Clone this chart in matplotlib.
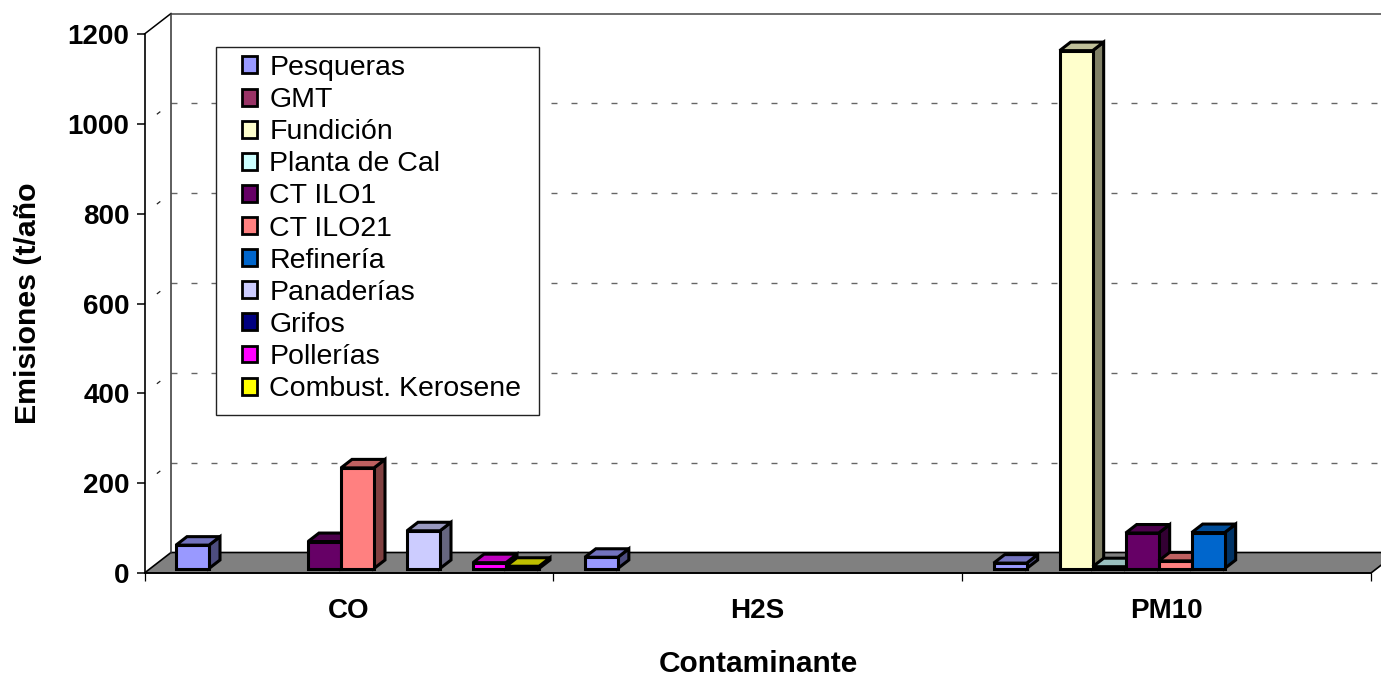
#!/usr/bin/env python
import matplotlib
matplotlib.use("Agg")
import matplotlib.pyplot as plt
from matplotlib.patches import Patch, Polygon, Rectangle
from matplotlib.colors import to_rgb

categories = ["CO", "H2S", "PM10"]
series = ["Pesqueras", "GMT", "Fundición", "Planta de Cal", "CT ILO1", "CT ILO21",
          "Refinería", "Panaderías", "Grifos", "Pollerías", "Combust. Kerosene"]
colors = ["#9999FF", "#993366", "#FFFFCC", "#CCFFFF", "#660066", "#FF8080",
          "#0066CC", "#CCCCFF", "#000080", "#FF00FF", "#FFFF00"]

# t/año per category, 0 = no bar
pesqueras = [52, 25, 12]
gmt = [0, 0, 0]
fundicion = [0, 0, 1153]
planta_cal = [0, 0, 4]
ct_ilo1 = [60, 0, 79]
ct_ilo21 = [224, 0, 17]
refineria = [0, 0, 80]
panaderias = [84, 0, 0]
grifos = [0, 0, 0]
pollerias = [13, 0, 0]
kerosene = [5, 0, 0]
values = [pesqueras, gmt, fundicion, planta_cal, ct_ilo1, ct_ilo21,
          refineria, panaderias, grifos, pollerias, kerosene]
yticks = [0, 200, 400, 600, 800, 1000, 1200]

W, H = 1381, 676
plt.rcParams["font.family"] = ["Liberation Sans", "DejaVu Sans"]

fig = plt.figure(figsize=(W / 100, H / 100), dpi=100)
ax = fig.add_axes([144.5 / W, 1 - 573 / H, 1226.5 / W, 539 / H])
ax.set_xlim(0, 3)
ax.set_ylim(0, 1200)

# data units per pixel, used for the fake 3D depth
PX = 3 / 1226.5
PY = 1200 / 539
WALL_X, WALL_Y = 26.5 * PX, 20.5 * PY
BAR_W = 33 * PX
BAR_X, BAR_Y = 11 * PX, 8.5 * PY
START_X, BASE_Y = 31.5 * PX, 4.5 * PY

for s in ["top", "right"]:
    ax.spines[s].set_visible(False)
for s in ["left", "bottom"]:
    ax.spines[s].set_linewidth(1.2)
    ax.spines[s].set_zorder(1.5)

# walls
xend = 3 + WALL_X
ax.add_patch(Polygon([(0, 0), (WALL_X, WALL_Y), (xend, WALL_Y), (3, 0)], closed=True,
                     fc="#808080", ec="black", lw=1.2, clip_on=False, zorder=1))
ax.plot([WALL_X, WALL_X], [WALL_Y, 1200 + WALL_Y], color="#333333", lw=1.1, clip_on=False, zorder=1)
ax.plot([0, WALL_X], [1200, 1200 + WALL_Y], color="black", lw=1.1, clip_on=False, zorder=1)
ax.plot([WALL_X, xend], [1200 + WALL_Y] * 2, color="#444444", lw=1.1, clip_on=False, zorder=1)

dash = (0, (4.3, 10.1))
for v in yticks[1:-1]:
    ax.plot([WALL_X, xend], [v + WALL_Y] * 2, color="#666666", lw=1.0, ls=dash, clip_on=False, zorder=0.8)
    ax.plot([0, WALL_X], [v, v + WALL_Y], color="#222222", lw=0.9, ls=(3, (3.5, 12)), clip_on=False, zorder=0.8)


def shade(color, k):
    return tuple(c * k for c in to_rgb(color))


def draw_bar(x, val, color):
    y0 = BASE_Y
    y1 = BASE_Y + val
    x1 = x + BAR_W
    faces = [
        ([(x1, y0), (x1 + BAR_X, y0 + BAR_Y), (x1 + BAR_X, y1 + BAR_Y), (x1, y1)], shade(color, 0.5)),
        ([(x, y1), (x + BAR_X, y1 + BAR_Y), (x1 + BAR_X, y1 + BAR_Y), (x1, y1)], shade(color, 0.75)),
        ([(x, y0), (x1, y0), (x1, y1), (x, y1)], color),
    ]
    for pts, fc in faces:
        ax.add_patch(Polygon(pts, closed=True, fc=fc, ec="black", lw=2.2,
                             joinstyle="miter", clip_on=False, zorder=2))


for c in range(len(categories)):
    for i, vals in enumerate(values):
        if vals[c] > 0:
            draw_bar(c + START_X + i * BAR_W, vals[c], colors[i])

ax.set_yticks(yticks)
ax.set_yticklabels([str(v) for v in yticks], fontsize=20, fontweight="bold")
ax.tick_params(axis="y", length=5.8, width=1.1, pad=5)
ax.set_xticks([0, 1, 2, 3])
ax.set_xticklabels([])
ax.tick_params(axis="x", which="major", length=5.8, width=0.9)
ax.set_xticks([0.5, 1.5, 2.5], minor=True)
ax.set_xticklabels(categories, minor=True, fontsize=20, fontweight="bold")
ax.tick_params(axis="x", which="minor", length=0, pad=18)

ax.set_xlabel("Contaminante", fontsize=21.5, fontweight="bold")
ax.xaxis.set_label_coords((758 - 144.5) / 1226.5, (573 - 650) / 539)
ax.set_ylabel("Emisiones (t/año", fontsize=21.8, fontweight="bold")
ax.yaxis.set_label_coords((42 - 144.5) / 1226.5, (573 - 303) / 539)

# legend box drawn apart so side and top padding can differ
fig.add_artist(Rectangle((216 / W, 1 - 415 / H), 323 / W, 368 / H, transform=fig.transFigure,
                         fc="white", ec="#222222", lw=1.0, zorder=4))
handles = [Patch(fc=col, ec="black", lw=2.0) for col in colors]
leg = fig.legend(handles, series, loc="upper left",
                 bbox_to_anchor=(242 / W, 1 - 55 / H), borderaxespad=0,
                 fontsize=20.5, frameon=False, handlelength=0.54, handleheight=0.54,
                 handletextpad=0.42, labelspacing=0.215, borderpad=0)
leg.set_zorder(5)

fig.savefig("out.png", dpi=100)
